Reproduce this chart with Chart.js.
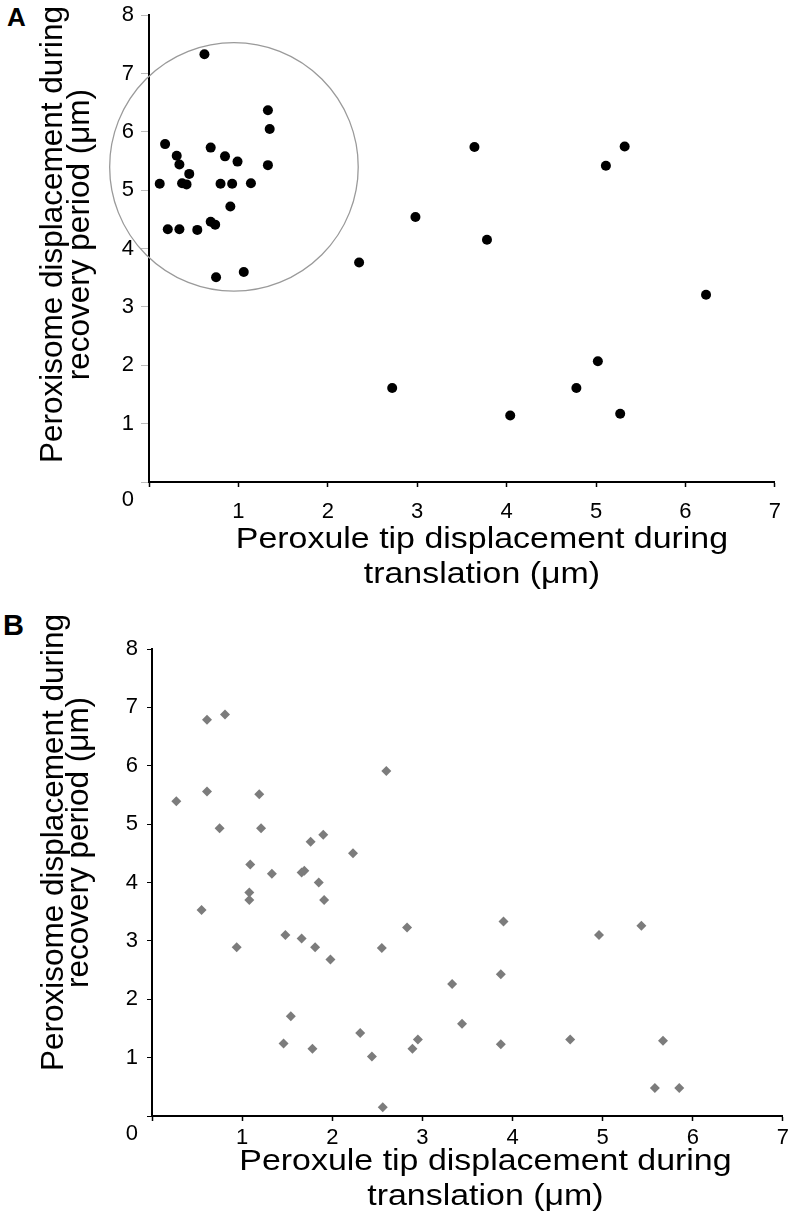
<!DOCTYPE html>
<html><head><meta charset="utf-8">
<script src="https://cdn.jsdelivr.net/npm/chart.js@4"></script>
<style>
html,body{margin:0;padding:0;background:#fff;}
body{width:793px;height:1214px;position:relative;overflow:hidden;}
canvas{position:absolute;left:0;}
.panel{position:absolute;font-family:'Liberation Sans',Arial,sans-serif;font-weight:bold;color:#000;line-height:1;}
</style></head>
<body>
<div class="panel" style="left:7px;top:4px;font-size:26px;">A</div>
<div class="panel" style="left:3px;top:611px;font-size:29px;">B</div>
<canvas id="cA" style="top:-10px"></canvas>
<canvas id="cB" style="top:607px"></canvas>
<script>
// ---- data ----
const xTickValues = [0,1,2,3,4,5,6,7];
const yTickValues = [0,1,2,3,4,5,6,7,8];
const xTitleLines = ['Peroxule tip displacement during','translation (\u03bcm)'];
const yTitleLines = ['Peroxisome displacement during','recovery period (\u03bcm)'];

const aX = [0.62,1.33,1.35,0.18,0.69,0.31,0.85,0.34,0.99,1.33,0.45,0.12,0.37,0.42,0.80,0.93,1.14,0.91,0.69,0.74,0.21,0.34,0.54,0.75,1.06,2.35,
            3.64,5.32,5.11,2.98,3.78,6.23,5.02,2.72,4.78,4.04,5.27];
const aY = [7.33,6.37,6.05,5.79,5.73,5.59,5.58,5.44,5.49,5.43,5.28,5.11,5.12,5.10,5.11,5.11,5.12,4.72,4.46,4.41,4.33,4.33,4.32,3.51,3.60,3.76,
            5.74,5.75,5.42,4.54,4.15,3.21,2.07,1.61,1.61,1.14,1.17];
// highlighted cluster ring in panel A: centre x, centre y, radius (x units)
const ringA = [0.95, 5.40, 1.39];

const bX = [0.27,0.61,0.81,0.61,0.75,1.19,1.21,2.60,1.76,1.90,2.23,1.09,1.33,1.66,1.69,1.85,
            1.08,1.08,0.55,1.91,2.83,1.48,1.66,0.94,1.81,2.55,1.98,1.54,2.31,1.46,1.78,2.44,2.95,2.89,2.56,
            3.90,3.87,3.33,3.44,3.87,4.64,4.96,5.43,5.67,5.58,5.85];
const bY = [5.39,6.79,6.88,5.56,4.93,5.51,4.93,5.91,4.70,4.82,4.50,4.31,4.15,4.17,4.20,4.00,
            3.83,3.70,3.53,3.70,3.23,3.10,3.04,2.89,2.89,2.88,2.68,1.71,1.42,1.24,1.15,1.02,1.31,1.15,0.15,
            3.33,2.43,2.26,1.58,1.23,1.31,3.10,3.26,1.29,0.48,0.48];

const FONT = "'Liberation Sans', Arial, sans-serif";

function pts(xs, ys){ return xs.map((x,i)=>({x:x, y:ys[i]})); }

function makeChart(id, cfg){
  const cv = document.getElementById(id);
  cv.width = 793; cv.height = cfg.h;
  cv.style.width = '793px'; cv.style.height = cfg.h + 'px';

  const decor = {
    id: 'decor_' + id,
    beforeDatasetsDraw(chart){
      if(!cfg.ring) return;
      const xs = chart.scales.x, ys = chart.scales.y, ctx = chart.ctx;
      const cx = xs.getPixelForValue(cfg.ring[0]);
      const cy = ys.getPixelForValue(cfg.ring[1]);
      const r = xs.getPixelForValue(cfg.ring[0] + cfg.ring[2]) - cx;
      ctx.save();
      ctx.beginPath();
      ctx.arc(cx, cy, r, 0, Math.PI*2);
      ctx.strokeStyle = '#9a9a9a';
      ctx.lineWidth = 1.3;
      ctx.stroke();
      ctx.restore();
    },
    afterDraw(chart){
      const a = chart.chartArea, ctx = chart.ctx;
      ctx.save();
      ctx.fillStyle = '#000';
      ctx.font = cfg.yTitleSize + 'px ' + FONT;
      ctx.textAlign = 'center';
      ctx.textBaseline = 'alphabetic';
      const ycy = (a.top + a.bottom)/2 + cfg.yTitleShift;
      yTitleLines.forEach((t,i)=>{
        ctx.save();
        ctx.translate(cfg.yTitleX[i], ycy);
        ctx.rotate(-Math.PI/2);
        ctx.fillText(t, 0, 0);
        ctx.restore();
      });
      ctx.font = cfg.xTitleSize + 'px ' + FONT;
      const xcx = (a.left + a.right)/2 + cfg.xTitleShift;
      xTitleLines.forEach((t,i)=>{
        ctx.save();
        ctx.translate(xcx, a.bottom + cfg.xTitleY[i]);
        ctx.scale(cfg.xTitleStretch, 1);
        ctx.fillText(t, 0, 0);
        ctx.restore();
      });
      ctx.restore();
    }
  };

  return new Chart(cv, {
    type: 'scatter',
    data: { datasets: [{
      data: pts(cfg.xs, cfg.ys),
      pointStyle: cfg.pointStyle,
      pointRadius: cfg.pointRadius,
      pointHoverRadius: cfg.pointRadius,
      backgroundColor: cfg.color,
      borderColor: cfg.color,
      borderWidth: 0
    }]},
    options: {
      responsive: false,
      animation: false,
      events: [],
      layout: { padding: { left: 0, top: cfg.padTop, right: cfg.padRight, bottom: 0 } },
      plugins: { legend: {display:false}, tooltip: {enabled:false} },
      scales: {
        x: {
          type: 'linear', min: 0, max: 7,
          afterBuildTicks(s){ s.ticks = xTickValues.map(v=>({value:v})); },
          afterFit(s){ s.height = cfg.xAxisH; },
          border: { display: true, color: '#000', width: 2 },
          grid: { drawOnChartArea: false, drawTicks: true, tickLength: 5, tickColor: '#000', tickWidth: 1.5 },
          ticks: {
            color: '#000', padding: cfg.xTickPad,
            font: { family: FONT, size: 22 },
            maxRotation: 0, autoSkip: false,
            callback: v => v === 0 ? '' : String(v)
          },
          title: { display: false }
        },
        y: {
          type: 'linear', min: 0, max: 8,
          afterBuildTicks(s){ s.ticks = yTickValues.map(v=>({value:v})); },
          afterFit(s){ s.width = cfg.yAxisW; },
          border: { display: true, color: '#000', width: 2 },
          grid: { drawOnChartArea: false, drawTicks: true, tickLength: cfg.yTickLen, tickColor: cfg.yTickColor, tickWidth: 1 },
          ticks: {
            color: '#000', padding: cfg.yTickPad,
            font: { family: FONT, size: 22, lineHeight: 1.65 },
            autoSkip: false,
            callback: v => v === 0 ? ['', '0'] : String(v)
          },
          title: { display: false }
        }
      }
    },
    plugins: [decor]
  });
}

makeChart('cA', {
  h: 617, padTop: 25, padRight: 11, yAxisW: 149, xAxisH: 125,
  xs: aX, ys: aY, ring: ringA,
  pointStyle: 'circle', pointRadius: 5, color: '#000',
  xTickPad: 12, yTickPad: 7, yTickLen: 8, yTickColor: '#bbbbbb',
  yTitleSize: 31.5, yTitleX: [62, 89], yTitleShift: -14,
  xTitleSize: 29, xTitleStretch: 1.17, xTitleShift: 20, xTitleY: [65.5, 101]
});

makeChart('cB', {
  h: 607, padTop: 42, padRight: 10, yAxisW: 152, xAxisH: 98,
  xs: bX, ys: bY, ring: null,
  pointStyle: 'rectRot', pointRadius: 5, color: '#7c7c7c',
  xTickPad: 4, yTickPad: 9, yTickLen: 5, yTickColor: '#000',
  yTitleSize: 31.5, yTitleX: [63, 88], yTitleShift: -40,
  xTitleSize: 29, xTitleStretch: 1.17, xTitleShift: 18, xTitleY: [54, 89]
});
</script>
</body></html>
